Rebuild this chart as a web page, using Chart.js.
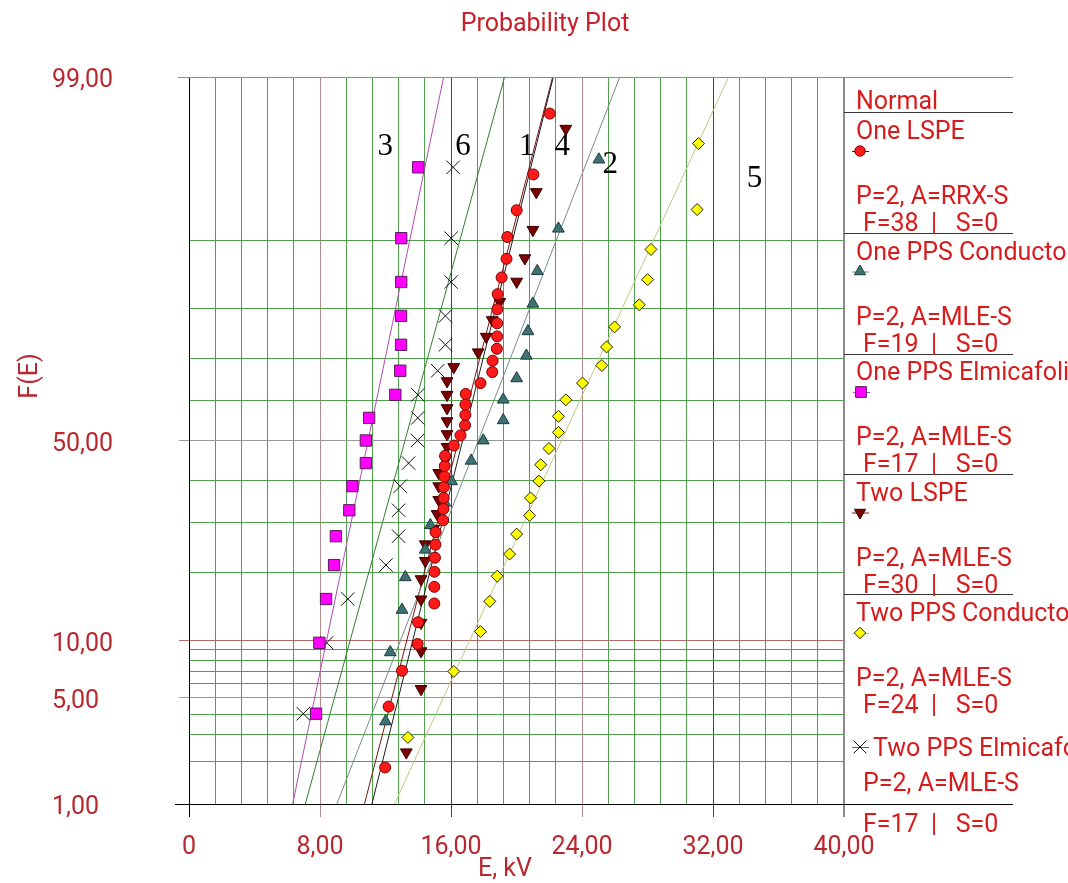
<!DOCTYPE html>
<html>
<head>
<meta charset="utf-8">
<title>Probability Plot</title>
<script src="https://cdn.jsdelivr.net/npm/chart.js@4/dist/chart.umd.min.js"></script>
<style>
  html, body { margin: 0; padding: 0; background: #fff; }
  #wrap { width: 1068px; height: 883px; }
</style>
</head>
<body>
<div id="wrap"><canvas id="plot" width="1068" height="883"></canvas></div>
<script>
// values: E in kV, F(E) in %
var oneLspeE = [11.98, 12.19, 13.01, 13.96, 13.99, 14.98, 14.98, 14.99, 15.02, 15.05, 15.06, 15.52, 15.54, 15.55, 15.56, 15.6, 15.62, 15.64, 16.17, 16.58,
                16.86, 16.88, 16.88, 16.9, 17.8, 18.52, 18.54, 18.8, 18.82, 18.82, 18.83, 18.85, 19.09, 19.39, 19.44, 20.01, 21.03, 22.03];
var oneLspeF = [1.82, 4.43, 7.03, 9.64, 12.24, 14.84, 17.45, 20.05, 22.66, 25.26, 27.86, 30.47, 33.07, 35.68, 38.28, 40.89, 43.49, 46.09, 48.70, 51.30,
                53.91, 56.51, 59.11, 61.72, 64.32, 66.93, 69.53, 72.14, 74.74, 77.34, 79.95, 82.55, 85.16, 87.76, 90.36, 92.97, 95.57, 98.18];

var onePpsCondE = [12.00, 12.29, 13.01, 13.21, 14.43, 14.74, 15.62, 16.04, 17.23, 17.97, 19.19, 19.19, 20.01, 20.60, 20.70, 21.00, 21.27, 22.56, 25.03];
var onePpsCondF = [3.61, 8.76, 13.92, 19.07, 24.23, 29.38, 34.54, 39.69, 44.85, 50.00, 55.15, 60.31, 65.46, 70.62, 75.77, 80.93, 86.08, 91.24, 96.39];

var onePpsElmE = [7.76, 7.96, 8.37, 8.86, 8.97, 9.79, 9.98, 10.80, 10.80, 11.00, 12.60, 12.90, 12.95, 12.95, 12.96, 12.96, 13.99];
var onePpsElmF = [4.02, 9.77, 15.52, 21.26, 27.01, 32.76, 38.51, 44.25, 50.00, 55.75, 61.49, 67.24, 72.99, 78.74, 84.48, 90.23, 95.98];

var twoLspeE = [13.27, 14.17, 14.17, 14.17, 14.17, 14.17, 14.43, 14.43, 14.94, 15.15, 15.25, 15.25, 15.25, 15.66, 15.76, 15.76, 15.76, 15.76, 15.76, 15.76,
                16.17, 17.66, 18.15, 18.52, 18.98, 20.01, 20.51, 21.00, 21.21, 23.01];
var twoLspeF = [2.30, 5.59, 8.88, 12.17, 15.46, 18.75, 22.04, 25.33, 28.62, 31.91, 35.20, 38.49, 41.78, 45.07, 48.36, 51.64, 54.93, 58.22, 61.51, 64.80,
                68.09, 71.38, 74.67, 77.96, 81.25, 84.54, 87.83, 91.12, 94.41, 97.70];

var twoPpsCondE = [13.37, 16.17, 17.80, 18.37, 18.82, 19.58, 20.01, 20.80, 20.86, 21.37, 21.48, 21.98, 22.56, 22.56, 23.01, 24.03, 25.21, 25.50, 25.99, 27.50,
                   28.01, 28.21, 31.03, 31.11];
var twoPpsCondF = [2.87, 6.97, 11.07, 15.16, 19.26, 23.36, 27.46, 31.56, 35.66, 39.75, 43.85, 47.95, 52.05, 56.15, 60.25, 64.34, 68.44, 72.54, 76.64, 80.74,
                   84.84, 88.93, 93.03, 97.13];

var twoPpsElmE = [6.98, 8.41, 9.70, 12.03, 12.80, 12.80, 12.90, 13.41, 13.96, 13.97, 13.98, 15.19, 15.66, 15.66, 16.01, 16.01, 16.13];
var twoPpsElmF = [4.02, 9.77, 15.52, 21.26, 27.01, 32.76, 38.51, 44.25, 50.00, 55.75, 61.49, 67.24, 72.99, 78.74, 84.48, 90.23, 95.98];

// fitted normal lines (mean, sigma in kV), same order as the series
var fitMu    = [16.71, 17.67, 10.94, 16.46, 22.75, 13.19];
var fitSigma = [2.381, 3.714, 1.982, 2.47, 4.385, 2.616];

var seriesNames  = ['One LSPE', 'One PPS Conductor', 'One PPS Elmicafolium', 'Two LSPE', 'Two PPS Conductor', 'Two PPS Elmicafolium'];
var seriesParams = ['P=2, A=RRX-S', 'P=2, A=MLE-S', 'P=2, A=MLE-S', 'P=2, A=MLE-S', 'P=2, A=MLE-S', 'P=2, A=MLE-S'];
var seriesFailed = [38, 19, 17, 30, 24, 17];
var seriesSusp   = [0, 0, 0, 0, 0, 0];

// line tags written on the plot
var tagText = ['1', '2', '3', '4', '5', '6'];
var tagE    = [20.62, 25.72, 11.98, 22.80, 34.54, 16.74];
var tagF    = [97.1, 96.26, 97.1, 97.1, 95.47, 97.1];

// axis ticks
var yGridP = [1, 2, 3, 4, 5, 6, 7, 8, 9, 10, 20, 30, 40, 50, 60, 70, 80, 90, 99];
var yLabelP = [1, 5, 10, 50, 99];
var xTickLabels = ['0', '8,00', '16,00', '24,00', '32,00', '40,00'];

var chartTitle = 'Probability Plot';
var xTitle = 'E, kV';
var yTitle = 'F(E)';
var distName = 'Normal';

// inverse of the standard normal cdf (Acklam)
function probit(p) {
	var a = [-3.969683028665376e+01, 2.209460984245205e+02, -2.759285104469687e+02, 1.383577518672690e+02, -3.066479806614716e+01, 2.506628277459239e+00];
	var b = [-5.447609879822406e+01, 1.615858368580409e+02, -1.556989798598866e+02, 6.680131188771972e+01, -1.328068155288572e+01];
	var c = [-7.784894002430293e-03, -3.223964580411365e-01, -2.400758296709817e+00, -2.549732539343734e+00, 4.374664141464968e+00, 2.938163982698783e+00];
	var d = [7.784695709041462e-03, 3.224671290700398e-01, 2.445134137142996e+00, 3.754408661907416e+00];
	var q, r;
	if (p < 0.02425) {
		q = Math.sqrt(-2 * Math.log(p));
		return (((((c[0]*q+c[1])*q+c[2])*q+c[3])*q+c[4])*q+c[5]) / ((((d[0]*q+d[1])*q+d[2])*q+d[3])*q+1);
	}
	if (p <= 1 - 0.02425) {
		q = p - 0.5; r = q * q;
		return (((((a[0]*r+a[1])*r+a[2])*r+a[3])*r+a[4])*r+a[5])*q / (((((b[0]*r+b[1])*r+b[2])*r+b[3])*r+b[4])*r+1);
	}
	q = Math.sqrt(-2 * Math.log(1 - p));
	return -(((((c[0]*q+c[1])*q+c[2])*q+c[3])*q+c[4])*q+c[5]) / ((((d[0]*q+d[1])*q+d[2])*q+d[3])*q+1);
}

var looks = [
	{style: 'circle',   radius: 5.5, rot: 0,   fill: '#ff1a1a', edge: '#7a0000', line: '#1c1c1c'},
	{style: 'triangle', radius: 6.8, rot: 0,   fill: '#3e7272', edge: '#1d3a3a', line: '#7a8c8c'},
	{style: 'rect',     radius: 8,   rot: 0,   fill: '#ff00ff', edge: '#5a1a5a', line: '#b04cb0'},
	{style: 'triangle', radius: 6.8, rot: 180, fill: '#7d0000', edge: '#3a0000', line: '#7a1414'},
	{style: 'rectRot',  radius: 6,   rot: 0,   fill: '#ffff00', edge: '#222200', line: '#c2c67e'},
	{style: 'crossRot', radius: 9.5, rot: 0,   fill: '#000000', edge: '#111111', line: '#2f7f2f'}
];

var allE = [oneLspeE, onePpsCondE, onePpsElmE, twoLspeE, twoPpsCondE, twoPpsElmE];
var allF = [oneLspeF, onePpsCondF, onePpsElmF, twoLspeF, twoPpsCondF, twoPpsElmF];

var zLo = probit(0.01), zHi = probit(0.99);
var datasets = [];
for (var s = 0; s < allE.length; s++) {
	var pts = [];
	for (var i = 0; i < allE[s].length; i++) {
		pts.push({x: allE[s][i], y: probit(allF[s][i] / 100)});
	}
	datasets.push({
		label: seriesNames[s], data: pts, showLine: false, order: 1,
		pointStyle: looks[s].style, pointRadius: looks[s].radius, pointRotation: looks[s].rot,
		backgroundColor: looks[s].fill, borderColor: looks[s].edge, borderWidth: 1
	});
}
for (var s = 0; s < fitMu.length; s++) {
	datasets.push({
		label: seriesNames[s] + ' fit', showLine: true, order: 2,
		data: [{x: fitMu[s] + fitSigma[s] * zLo, y: zLo}, {x: fitMu[s] + fitSigma[s] * zHi, y: zHi}],
		borderColor: looks[s].line, borderWidth: 1, pointRadius: 0
	});
}

var xGrid = [];
for (var i = 0; i <= 25; i++) xGrid.push(Math.round(i * 16) / 10);

function pct(p) { return p.toFixed(2).replace('.', ','); }

var labelRed = '#b8282e';
var legendRed = '#d81c1c';
var dy = 3; // canvas 'middle' baseline sits a little high for Roboto

function drawMark(ctx, k, x, y) {
	var lk = looks[k];
	ctx.strokeStyle = lk.line;
	ctx.lineWidth = 1;
	ctx.beginPath();
	ctx.moveTo(x - 8, y + 0.5); ctx.lineTo(x + 9, y + 0.5);
	ctx.stroke();
	ctx.fillStyle = lk.fill;
	ctx.strokeStyle = lk.edge;
	Chart.helpers.drawPoint(ctx, {pointStyle: lk.style, radius: lk.radius * 0.95, rotation: lk.rot, borderWidth: 1}, x, y);
}

var annotate = {
	id: 'annotate',
	afterDraw: function (chart) {
		var ctx = chart.ctx, xs = chart.scales.x, ys = chart.scales.y;
		var top = chart.chartArea.top, bot = chart.chartArea.bottom;
		ctx.save();
		ctx.lineWidth = 1;
		ctx.strokeStyle = '#8c8c8c';
		ctx.beginPath(); ctx.moveTo(178, top + 0.5); ctx.lineTo(1013, top + 0.5); ctx.stroke();
		ctx.strokeStyle = '#000';
		ctx.beginPath(); ctx.moveTo(175, bot + 0.5); ctx.lineTo(1013, bot + 0.5); ctx.stroke();

		// legend separators
		var seps = [112, 233, 354, 474, 594];
		ctx.strokeStyle = '#383838';
		seps.forEach(function (yy) {
			ctx.beginPath(); ctx.moveTo(844, yy + 0.5); ctx.lineTo(1013, yy + 0.5); ctx.stroke();
		});

		ctx.textBaseline = 'middle';
		// title and axis titles
		ctx.fillStyle = '#c8202a';
		ctx.font = '25px Roboto';
		ctx.textAlign = 'center';
		ctx.fillText(chartTitle, 545, 22 + dy);
		ctx.fillStyle = labelRed;
		ctx.fillText(xTitle, 505, 867 + dy);
		ctx.save();
		ctx.translate(28 + dy, 376);
		ctx.rotate(-Math.PI / 2);
		ctx.fillText(yTitle, 0, 0);
		ctx.restore();

		// line tags
		ctx.fillStyle = '#000';
		ctx.font = '31px "Liberation Serif"';
		for (var t = 0; t < tagText.length; t++) {
			ctx.fillText(tagText[t], xs.getPixelForValue(tagE[t]), ys.getPixelForValue(probit(tagF[t] / 100)) + dy);
		}

		// legend
		ctx.textAlign = 'left';
		ctx.font = '25px Roboto';
		ctx.fillStyle = legendRed;
		ctx.fillText(distName, 856, 100 + dy);
		for (var k = 0; k < seriesNames.length; k++) {
			var T = 112 + 120.5 * k;
			var nx = 856, ny = T + 18, mx = 860, my = T + 39, py = T + 83, fy = T + 110, px = 856;
			if (k === 5) { nx = 873; ny = 747; my = 747; px = 863; py = 782; fy = 823; }
			ctx.fillStyle = legendRed;
			ctx.font = '25px Roboto';
			ctx.fillText(seriesNames[k], nx, ny + dy);
			ctx.fillText(seriesParams[k], px, py + dy);
			ctx.fillText('F=' + seriesFailed[k] + '  |   S=' + seriesSusp[k], 863, fy + dy);
			drawMark(ctx, k, mx + (looks[k].style === 'rect' ? 1 : 0), my);
		}
		ctx.restore();
	}
};

new Chart(document.getElementById('plot'), {
	type: 'scatter',
	data: {datasets: datasets},
	options: {
		responsive: false,
		animation: false,
		events: [],
		layout: {autoPadding: false, padding: {left: 52, top: 77, right: 224, bottom: 0}},
		plugins: {legend: {display: false}, title: {display: false}, tooltip: {enabled: false}},
		scales: {
			x: {
				type: 'linear', position: 'bottom', min: 0, max: 40,
				afterBuildTicks: function (sc) { sc.ticks = xGrid.map(function (v) { return {value: v}; }); },
				afterFit: function (sc) { sc.height = 79; },
				ticks: {
					autoSkip: false, maxRotation: 0, minRotation: 0, padding: 16, color: labelRed,
					font: {family: 'Roboto', size: 25},
					callback: function (v, i) { return i % 5 === 0 ? xTickLabels[i / 5] : ''; }
				},
				grid: {
					tickLength: 13,
					color: function (c) {
						var i = c.index;
						if (i === 0) return '#000';
						if (i === 25) return '#8a8a8a';
						if (i % 5 === 0) return (i / 5) % 2 ? '#b58a8a' : '#a01c1c';
						return '#4f9f4f';
					},
					lineWidth: function (c) { return c.index === 25 ? 2 : 1; },
					tickColor: function (c) {
						var i = c.index;
						if (i % 5 !== 0) return 'rgba(0,0,0,0)';
						if (i === 0) return '#000';
						if (i === 25) return '#8a8a8a';
						return (i / 5) % 2 ? '#b58a8a' : '#a01c1c';
					}
				},
				border: {color: '#000', width: 1}
			},
			y: {
				type: 'linear', position: 'left', min: zLo, max: zHi,
				afterBuildTicks: function (sc) { sc.ticks = yGridP.map(function (p) { return {value: probit(p / 100)}; }); },
				afterFit: function (sc) { sc.width = 137; },
				ticks: {
					autoSkip: false, crossAlign: 'far', color: labelRed, labelOffset: 4,
					font: {family: 'Roboto', size: 25},
					callback: function (v, i) { var p = yGridP[i]; return yLabelP.indexOf(p) >= 0 ? pct(p) : ''; }
				},
				grid: {
					tickLength: 10,
					color: function (c) {
						var p = yGridP[c.index];
						if (p === 1) return '#000';
						if (p === 10) return '#b06a6a';
						if (p === 5 || p === 50 || p === 99) return '#999999';
						return '#4f9f4f';
					},
					tickColor: function (c) {
						var p = yGridP[c.index];
						if (p === 1) return '#000';
						if (p === 10) return '#b06a6a';
						if (p === 5 || p === 50 || p === 99) return '#999999';
						return 'rgba(0,0,0,0)';
					}
				},
				border: {color: '#000', width: 1}
			}
		}
	},
	plugins: [annotate]
});
</script>
</body>
</html>
